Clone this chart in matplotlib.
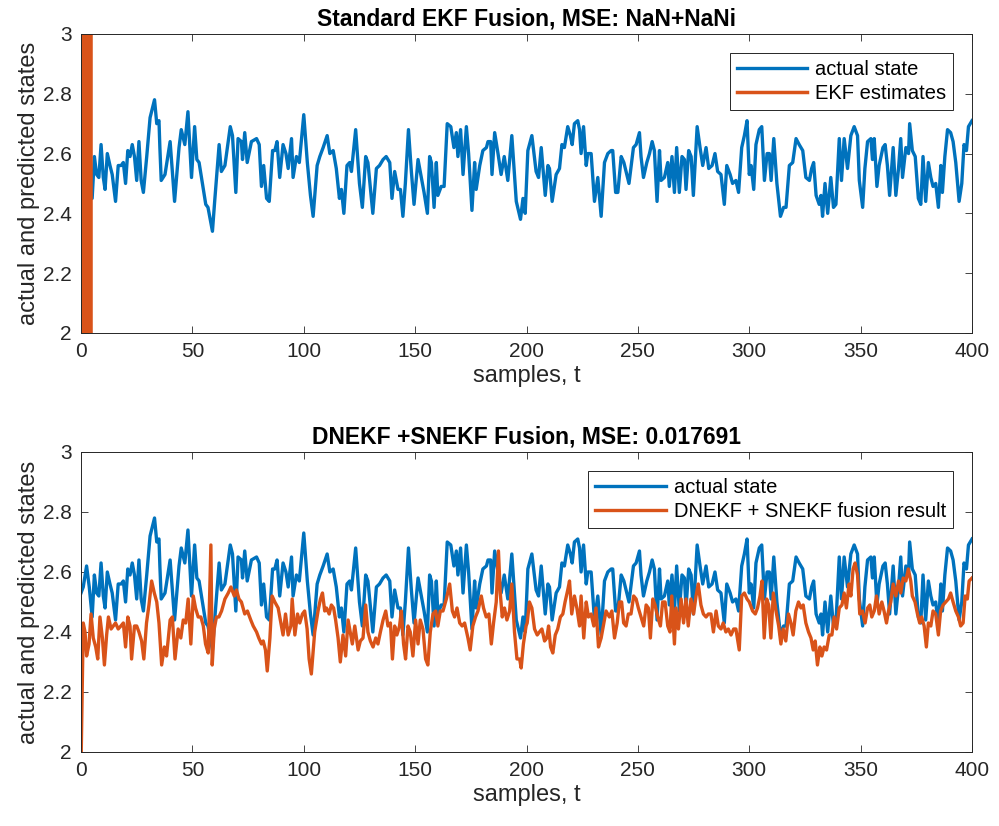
import numpy as np
import matplotlib
matplotlib.use('Agg')
import matplotlib.pyplot as plt

plt.rcParams['font.family'] = ['Liberation Sans', 'DejaVu Sans']

# actual state (sample index / value)
state_t = [0, 1, 2.5, 3.7, 5, 6, 7, 8, 9, 10, 10.8, 11.8, 13, 14, 15.5, 16.7, 18, 19, 20, 21, 22, 23, 24, 25, 26, 27, 28,
           29.5, 31, 33, 34, 35, 35.4, 36, 37.7, 40, 42, 44, 45, 46.6, 48, 49.6, 51, 52, 53, 56, 57, 59, 60, 62, 63, 64.6,
           67, 68, 69.5, 70.5, 72, 72.5, 73.5, 74.6, 76.5, 78.8, 80, 81, 82, 83.3, 84.5, 86, 87, 88, 89.2, 90.7, 92, 93,
           94.5, 95.2, 96.7, 98, 100, 101.6, 103, 104.2, 106, 107.2, 108.7, 110.5, 111.7, 113.2, 114.6, 116, 116.9, 118,
           119.4, 120.6, 121.4, 123.3, 125, 126.3, 127.8, 128.8, 131, 132.6, 134, 135.6, 137, 138.6, 139.6, 140.8, 142.3,
           143.4, 144.5, 145.6, 147, 148.3, 149.5, 151.3, 152.8, 154, 155.5, 156.5, 157.3, 158.5, 159.5, 160.2, 161.7, 163,
           164.4, 166, 167.4, 168.5, 169.2, 170.4, 171.5, 173, 174, 175.5, 176.7, 177.4, 179, 180.4, 182, 182.7, 183.9,
           184.5, 185.7, 187.2, 188.6, 190, 191.6, 193.4, 195.4, 197.3, 198.4, 199.4, 200.6, 202.4, 204.3, 205.4, 206.6,
           208.4, 209.6, 210.3, 211.5, 213.3, 214.8, 215.9, 217, 218.5, 219.7, 220.5, 221.5, 223, 223.8, 224.5, 225.6,
           226.8, 227.5, 229, 230.5, 232, 233.5, 235, 236.5, 238, 238.7, 240, 241, 242.5, 243.7, 246, 248, 249.2, 250.7,
           251.4, 252.5, 254, 255.2, 256.4, 257.4, 258.6, 259.7, 260.4, 261.9, 263.4, 264.1, 265.3, 266.4, 267.4, 268.6,
           269.8, 270.9, 271.6, 272.8, 273.9, 274.9, 276.6, 277.9, 279.1, 280.6, 281.8, 283.3, 284.6, 285.8, 287.3, 288.8,
           289.9, 291.4, 292.5, 294, 295.2, 296.6, 297.8, 299, 300, 300.8, 302, 303, 304.5, 305.6, 306.8, 308, 309, 309.8,
           311, 312.4, 314, 315.4, 316.5, 318, 319.5, 321, 322.4, 324, 325.4, 327, 328, 328.9, 330, 331.4, 332.2, 332.9,
           334, 335.2, 336.6, 337.8, 338.9, 340.4, 341.4, 342.6, 344.1, 345.6, 347.1, 348.6, 349.4, 350.9, 351.9, 353.1,
           354.6, 355.3, 356.1, 357.3, 358.3, 360, 361, 362, 363, 364.6, 365.8, 367, 368, 368.8, 370.3, 371.5, 372, 373.2,
           374.5, 375.9, 377, 378, 379.2, 380.4, 381.5, 382.5, 383.7, 384.9, 386, 386.7, 387.8, 389, 390.4, 391.5, 392.7,
           394.2, 395.4, 396.4, 397.5, 398.4, 400]
state_v = [2.53, 2.55, 2.62, 2.55, 2.45, 2.59, 2.53, 2.52, 2.63, 2.52, 2.48, 2.60, 2.56, 2.53, 2.44, 2.56, 2.56, 2.57, 2.50,
           2.61, 2.59, 2.63, 2.59, 2.51, 2.64, 2.51, 2.47, 2.59, 2.72, 2.78, 2.70, 2.71, 2.62, 2.51, 2.53, 2.64, 2.44, 2.62,
           2.68, 2.63, 2.74, 2.52, 2.69, 2.58, 2.57, 2.43, 2.42, 2.34, 2.44, 2.63, 2.54, 2.56, 2.69, 2.66, 2.47, 2.65, 2.64,
           2.58, 2.67, 2.57, 2.64, 2.65, 2.63, 2.49, 2.56, 2.45, 2.44, 2.61, 2.61, 2.64, 2.52, 2.63, 2.60, 2.55, 2.65, 2.52,
           2.59, 2.57, 2.73, 2.57, 2.46, 2.39, 2.56, 2.59, 2.62, 2.66, 2.60, 2.61, 2.55, 2.45, 2.48, 2.40, 2.56, 2.57, 2.54,
           2.68, 2.50, 2.42, 2.59, 2.57, 2.40, 2.55, 2.56, 2.58, 2.59, 2.57, 2.45, 2.54, 2.48, 2.48, 2.39, 2.50, 2.68, 2.54,
           2.43, 2.58, 2.52, 2.47, 2.40, 2.59, 2.57, 2.42, 2.57, 2.46, 2.49, 2.49, 2.70, 2.69, 2.62, 2.67, 2.59, 2.68, 2.53,
           2.69, 2.60, 2.41, 2.57, 2.48, 2.56, 2.61, 2.62, 2.64, 2.64, 2.53, 2.67, 2.60, 2.53, 2.59, 2.51, 2.66, 2.44, 2.38,
           2.45, 2.40, 2.61, 2.66, 2.54, 2.52, 2.62, 2.46, 2.56, 2.55, 2.44, 2.53, 2.55, 2.63, 2.62, 2.69, 2.66, 2.63, 2.70,
           2.71, 2.68, 2.60, 2.69, 2.56, 2.60, 2.60, 2.44, 2.52, 2.39, 2.57, 2.60, 2.61, 2.61, 2.47, 2.47, 2.59, 2.57, 2.50,
           2.62, 2.63, 2.67, 2.59, 2.52, 2.57, 2.60, 2.64, 2.61, 2.44, 2.61, 2.51, 2.52, 2.57, 2.49, 2.59, 2.47, 2.62, 2.47,
           2.59, 2.58, 2.48, 2.61, 2.59, 2.46, 2.69, 2.62, 2.56, 2.62, 2.55, 2.56, 2.60, 2.54, 2.53, 2.43, 2.56, 2.53, 2.50,
           2.51, 2.47, 2.62, 2.66, 2.71, 2.53, 2.56, 2.48, 2.63, 2.68, 2.69, 2.51, 2.60, 2.60, 2.51, 2.65, 2.50, 2.39, 2.42,
           2.42, 2.56, 2.57, 2.65, 2.63, 2.61, 2.52, 2.51, 2.55, 2.57, 2.46, 2.43, 2.46, 2.39, 2.50, 2.40, 2.52, 2.42, 2.43,
           2.65, 2.51, 2.65, 2.55, 2.66, 2.69, 2.66, 2.51, 2.42, 2.55, 2.64, 2.65, 2.58, 2.65, 2.49, 2.56, 2.62, 2.63, 2.56,
           2.46, 2.62, 2.46, 2.55, 2.65, 2.52, 2.62, 2.60, 2.70, 2.61, 2.59, 2.45, 2.43, 2.59, 2.44, 2.57, 2.52, 2.49, 2.50,
           2.42, 2.56, 2.47, 2.59, 2.68, 2.67, 2.64, 2.57, 2.44, 2.50, 2.63, 2.61, 2.69, 2.71]

# standard EKF estimates: diverge off scale in the first samples, NaN afterwards
ekf_t = [0, 1, 2, 3, 4, 5]
ekf_v = [-1e4, 1e4, -1e4, 1e4, -1e4, 1e4]

# DNEKF + SNEKF fusion result
fus_t = [0, 1, 1.8, 2.5, 3.6, 4.5, 5.5, 6.6, 7.5, 8.5, 9.6, 10.5, 11.5, 12.3, 13.5, 14.5, 15.5, 16.7, 17.9, 19, 20, 21,
         22, 22.7, 24, 25, 26, 27.2, 28.2, 29.4, 30.5, 31.7, 32.9, 34, 35, 36.2, 37.4, 38.4, 40, 41, 42.2, 43.6, 44.8,
         45.9, 47, 48.1, 49.3, 50.4, 51.4, 52.6, 53.8, 54.9, 55.9, 57.1, 58.3, 58.9, 59.8, 60.8, 61.9, 63.1, 64.6, 66.1,
         67.3, 68.8, 69.8, 70.9, 72, 73.5, 74.7, 76.2, 77.3, 78.8, 79.8, 81, 81.8, 82.8, 83.6, 84.8, 85.8, 87, 88.5, 89.7,
         90.7, 91.8, 93, 94.2, 94.8, 96, 97.2, 98.2, 99.4, 100.4, 101.5, 102.4, 103.4, 104.9, 106.4, 107.5, 108.4, 109.4,
         110.2, 111.4, 112.4, 113.4, 114.3, 115.4, 116.4, 117.6, 118.8, 119.9, 120.6, 121.8, 122.9, 124.4, 125.4, 126.6,
         127.8, 128.8, 129.9, 131.1, 132.3, 133.3, 134.4, 135.6, 136.8, 137.8, 138.9, 139.8, 140.8, 141.8, 143, 143.8,
         144.8, 145.7, 146.8, 147.8, 149, 150.2, 151.3, 152.3, 153.5, 154.7, 155.7, 156.8, 158, 159.2, 160.2, 161.3,
         162.5, 164, 165.5, 166.7, 167.7, 168.8, 170, 171.1, 172.2, 173.7, 174.7, 175.9, 177.1, 178.2, 179.7, 180.7,
         181.9, 183.1, 184.2, 185.2, 186.4, 187.4, 188.2, 189.1, 190.1, 191.2, 192.4, 193.4, 194.6, 195.7, 196.9, 197.6,
         198.6, 199.8, 200.3, 201.3, 202.4, 203.6, 204.8, 205.8, 206.9, 208.1, 209.1, 209.9, 210.8, 211.8, 212.9, 214,
         215.2, 216.3, 217.3, 218.5, 219.3, 220.3, 221.5, 222.6, 223.8, 224.5, 225.7, 226.8, 227.8, 229, 230.2, 231.2,
         232.3, 233.5, 234.7, 235.7, 237.2, 238.3, 239.5, 240.7, 241.7, 242.7, 243.6, 244.7, 245.7, 246.9, 248.1, 249.2,
         250.2, 251.4, 252.6, 253.7, 254.7, 255.6, 256.7, 257.7, 258.9, 260.1, 261.1, 262.2, 263.4, 264.4, 265.2, 266.4,
         267.1, 268.2, 269.4, 270.5, 271.6, 272.6, 273.8, 275, 276.1, 277.1, 278.3, 279.4, 280.6, 281.6, 282.8, 283.9,
         285.1, 286.1, 287.3, 288.3, 289.5, 290.6, 291.8, 293, 294, 295.5, 296.6, 297.8, 299, 300, 301.5, 302.7, 303.7,
         304.8, 305.7, 306.7, 307.8, 308.7, 309.7, 310.8, 312, 313.2, 314.2, 315.2, 316.4, 317.6, 318.7, 319.7, 320.9,
         322.1, 323.2, 324.2, 325.4, 326.6, 327.7, 328.7, 329.6, 330.6, 331.7, 332.6, 333.6, 334.7, 335.9, 337.1, 338.1,
         339.2, 340.4, 341.6, 342.6, 343.6, 344.8, 345.6, 346.6, 347.5, 348.6, 349.6, 350.8, 352, 353.1, 354.1, 355,
         356.1, 357.1, 358.3, 359.5, 360.5, 361.6, 362.5, 363.5, 364.6, 365.8, 367, 368, 369.1, 370.3, 371.4, 372.5,
         373.2, 374.4, 375.5, 376.5, 377.4, 378.5, 379.5, 380.4, 381.5, 382.5, 383.7, 384.9, 385.9, 387, 388.2, 389.4,
         390.4, 391.5, 392.7, 393.9, 394.9, 396, 396.9, 397.9, 398.7, 400]
fus_v = [1.95, 2.43, 2.40, 2.32, 2.36, 2.46, 2.38, 2.35, 2.31, 2.45, 2.38, 2.29, 2.39, 2.45, 2.41, 2.42, 2.43, 2.41, 2.42,
         2.43, 2.35, 2.45, 2.42, 2.31, 2.42, 2.42, 2.40, 2.37, 2.31, 2.43, 2.49, 2.57, 2.53, 2.50, 2.43, 2.29, 2.35, 2.32,
         2.44, 2.45, 2.31, 2.41, 2.38, 2.44, 2.43, 2.51, 2.36, 2.52, 2.48, 2.45, 2.45, 2.42, 2.36, 2.33, 2.69, 2.29, 2.41,
         2.45, 2.45, 2.47, 2.51, 2.53, 2.55, 2.52, 2.54, 2.51, 2.50, 2.46, 2.47, 2.44, 2.42, 2.40, 2.38, 2.36, 2.37, 2.34,
         2.27, 2.38, 2.52, 2.50, 2.48, 2.43, 2.39, 2.46, 2.39, 2.42, 2.51, 2.39, 2.46, 2.43, 2.46, 2.47, 2.41, 2.31, 2.26,
         2.40, 2.47, 2.51, 2.53, 2.47, 2.48, 2.46, 2.49, 2.48, 2.44, 2.38, 2.30, 2.39, 2.32, 2.44, 2.41, 2.36, 2.42, 2.34,
         2.37, 2.38, 2.49, 2.40, 2.37, 2.35, 2.38, 2.36, 2.40, 2.44, 2.47, 2.42, 2.43, 2.31, 2.42, 2.39, 2.42, 2.47, 2.36,
         2.31, 2.42, 2.40, 2.32, 2.44, 2.36, 2.44, 2.41, 2.31, 2.29, 2.40, 2.46, 2.47, 2.42, 2.47, 2.47, 2.51, 2.56, 2.47,
         2.45, 2.48, 2.43, 2.42, 2.43, 2.38, 2.34, 2.42, 2.45, 2.47, 2.52, 2.48, 2.45, 2.46, 2.36, 2.43, 2.50, 2.67, 2.53,
         2.45, 2.48, 2.44, 2.47, 2.56, 2.40, 2.31, 2.31, 2.28, 2.36, 2.42, 2.43, 2.50, 2.48, 2.41, 2.39, 2.40, 2.41, 2.37,
         2.38, 2.42, 2.35, 2.33, 2.39, 2.41, 2.45, 2.46, 2.50, 2.54, 2.57, 2.46, 2.52, 2.48, 2.42, 2.52, 2.38, 2.50, 2.45,
         2.46, 2.42, 2.48, 2.35, 2.38, 2.43, 2.47, 2.45, 2.47, 2.38, 2.43, 2.50, 2.50, 2.43, 2.42, 2.46, 2.46, 2.52, 2.51,
         2.48, 2.45, 2.42, 2.49, 2.48, 2.38, 2.51, 2.49, 2.45, 2.42, 2.50, 2.50, 2.42, 2.40, 2.52, 2.36, 2.48, 2.41, 2.51,
         2.43, 2.51, 2.42, 2.51, 2.46, 2.52, 2.56, 2.49, 2.46, 2.45, 2.46, 2.46, 2.40, 2.47, 2.42, 2.41, 2.43, 2.40, 2.41,
         2.39, 2.41, 2.41, 2.34, 2.52, 2.53, 2.51, 2.50, 2.47, 2.46, 2.48, 2.52, 2.57, 2.38, 2.51, 2.49, 2.38, 2.53, 2.47,
         2.42, 2.36, 2.41, 2.37, 2.46, 2.43, 2.39, 2.47, 2.50, 2.48, 2.49, 2.43, 2.40, 2.38, 2.34, 2.37, 2.29, 2.35, 2.32,
         2.35, 2.34, 2.39, 2.39, 2.45, 2.41, 2.48, 2.49, 2.53, 2.48, 2.56, 2.52, 2.61, 2.63, 2.59, 2.46, 2.47, 2.43, 2.48,
         2.49, 2.45, 2.47, 2.52, 2.46, 2.50, 2.47, 2.43, 2.47, 2.50, 2.56, 2.52, 2.57, 2.53, 2.58, 2.57, 2.61, 2.57, 2.52,
         2.50, 2.46, 2.43, 2.45, 2.42, 2.35, 2.43, 2.42, 2.47, 2.46, 2.39, 2.47, 2.49, 2.50, 2.51, 2.53, 2.50, 2.47, 2.45,
         2.42, 2.43, 2.52, 2.51, 2.57, 2.58]

titles = ['Standard EKF Fusion, MSE: NaN+NaNi', 'DNEKF +SNEKF Fusion, MSE: 0.017691']
labels = [['actual state', 'EKF estimates'], ['actual state', 'DNEKF + SNEKF fusion result']]
xticks = np.arange(0, 401, 50)
yticks = [2, 2.2, 2.4, 2.6, 2.8, 3]

blue = '#0072BD'
orange = '#D95319'
axcol = '#262626'

fig = plt.figure(figsize=(9.99, 8.26), dpi=100)
ax1 = fig.add_axes([0.0811, 0.5969, 0.8919, 0.3620])
ax2 = fig.add_axes([0.0811, 0.0896, 0.8919, 0.3632])

ax1.plot(state_t, state_v, color=blue, lw=2.4, label=labels[0][0])
ax1.plot(ekf_t, ekf_v, color=orange, lw=2.5, label=labels[0][1])
ax2.plot(state_t, state_v, color=blue, lw=2.4, label=labels[1][0])
ax2.plot(fus_t, fus_v, color=orange, lw=2.4, label=labels[1][1])

for ax, ttl in zip([ax1, ax2], titles):
    ax.set_xlim(0, 400)
    ax.set_ylim(2, 3)
    ax.set_xticks(xticks)
    ax.set_yticks(yticks)
    ax.set_yticklabels(['2', '2.2', '2.4', '2.6', '2.8', '3'])
    ax.tick_params(direction='in', top=True, right=True, length=5, width=0.6,
                   colors=axcol, labelsize=15, pad=6.5)
    for sp in ax.spines.values():
        sp.set_color(axcol)
        sp.set_linewidth(0.7)
    ax.set_xlabel('samples, t', fontsize=17, color=axcol, labelpad=3)
    ax.set_ylabel('actual and predicted states', fontsize=17, color=axcol, labelpad=2)
    ax.set_title(ttl, fontsize=16.5, fontweight='bold', color='black', pad=6)
    leg = ax.legend(loc='upper right', bbox_to_anchor=(0.979, 0.937), borderaxespad=0,
                    fancybox=False, edgecolor=axcol, framealpha=1, fontsize=14.5,
                    handlelength=3.5, handletextpad=0.4, borderpad=0.35, labelspacing=0.25)
    leg.get_frame().set_linewidth(0.7)

fig.savefig('out.png', dpi=100)
